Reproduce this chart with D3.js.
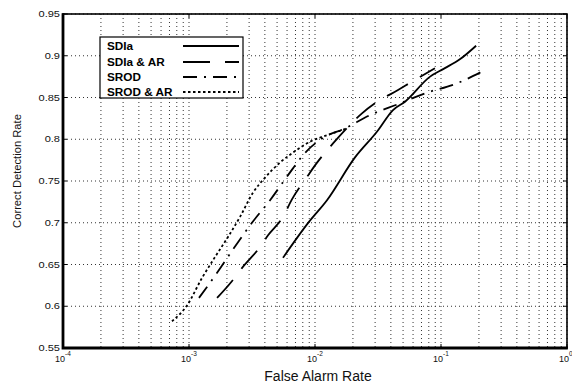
<!DOCTYPE html>
<html>
<head>
<meta charset="utf-8">
<script src="https://cdn.jsdelivr.net/npm/d3@7"></script>
<style>
  body { margin: 0; background: #fff; }
  svg { display: block; font-family: Arial, "Liberation Sans", Helvetica, sans-serif; }
</style>
</head>
<body>
<div id="chart"></div>
<script>
const width = 572;
const height = 383;

// axis ticks
const xTicks = [1e-4, 1e-3, 1e-2, 1e-1, 1];
const xTickExp = ['-4', '-3', '-2', '-1', '0'];
const yTicks = [0.55, 0.6, 0.65, 0.7, 0.75, 0.8, 0.85, 0.9, 0.95];

const seriesNames = ['SDIa', 'SDIa & AR', 'SROD', 'SROD & AR'];

// SDIa (solid)
const sdiaX = [0.00557, 0.00895, 0.01245, 0.0207, 0.031, 0.0416, 0.0518, 0.0819, 0.104, 0.142, 0.19];
const sdiaY = [0.658, 0.701, 0.727, 0.778, 0.809, 0.835, 0.845, 0.875, 0.884, 0.896, 0.912];

// SDIa & AR (dashed)
const sdiaArX = [0.00167, 0.00219, 0.00264, 0.00366, 0.00424, 0.00557, 0.00656, 0.00865, 0.01038, 0.0139, 0.0173, 0.0236, 0.0299, 0.0456, 0.0589, 0.0895];
const sdiaArY = [0.610, 0.630, 0.646, 0.671, 0.685, 0.707, 0.728, 0.755, 0.772, 0.795, 0.811, 0.831, 0.843, 0.859, 0.869, 0.885];

// SROD (dash-dot)
const srodX = [0.0012, 0.00167, 0.00228, 0.00316, 0.0044, 0.00611, 0.00849, 0.01138, 0.0173, 0.0274, 0.0456, 0.0746, 0.134, 0.211];
const srodY = [0.610, 0.640, 0.670, 0.700, 0.727, 0.757, 0.785, 0.801, 0.813, 0.829, 0.842, 0.855, 0.867, 0.881];

// SROD & AR (dotted)
const srodArX = [0.000733, 0.000964, 0.00127, 0.00161, 0.00204, 0.00254, 0.00322, 0.00401, 0.00527, 0.00668, 0.00912, 0.01315, 0.01795];
const srodArY = [0.582, 0.601, 0.634, 0.659, 0.683, 0.707, 0.736, 0.754, 0.772, 0.784, 0.797, 0.806, 0.813];

const plot = {left: 63, right: 567, top: 14, bottom: 348};

const dashes = ['none', '24,14', '14,7,2,7', '2.5,2.5'];

const x = d3.scaleLog()
  .domain([1e-4, 1])
  .range([plot.left, plot.right]);

const y = d3.scaleLinear()
  .domain([0.55, 0.95])
  .range([plot.bottom, plot.top]);

const zip = (xs, ys) => xs.map((v, i) => ({x: v, y: ys[i]}));

const series = [
  zip(sdiaX, sdiaY),
  zip(sdiaArX, sdiaArY),
  zip(srodX, srodY),
  zip(srodArX, srodArY)
].map((data, i) => ({name: seriesNames[i], dash: dashes[i], data}));

const svg = d3.select('#chart').append('svg')
  .attr('width', width)
  .attr('height', height);

// dotted grid
svg.append('g')
  .selectAll('line')
  .data(x.ticks())
  .join('line')
    .attr('x1', d => x(d)).attr('x2', d => x(d))
    .attr('y1', plot.top).attr('y2', plot.bottom)
    .attr('stroke', '#333')
    .attr('stroke-width', 1)
    .attr('stroke-dasharray', '1,3');

svg.append('g')
  .selectAll('line')
  .data(yTicks)
  .join('line')
    .attr('x1', plot.left).attr('x2', plot.right)
    .attr('y1', d => y(d)).attr('y2', d => y(d))
    .attr('stroke', '#333')
    .attr('stroke-width', 1)
    .attr('stroke-dasharray', '1,3');

// inward ticks on all four sides
const tickG = svg.append('g').attr('stroke', '#000').attr('stroke-width', 1);
yTicks.forEach(t => {
  tickG.append('line').attr('x1', plot.left).attr('x2', plot.left + 4).attr('y1', y(t)).attr('y2', y(t));
  tickG.append('line').attr('x1', plot.right).attr('x2', plot.right - 4).attr('y1', y(t)).attr('y2', y(t));
});
xTicks.forEach(t => {
  tickG.append('line').attr('x1', x(t)).attr('x2', x(t)).attr('y1', plot.bottom).attr('y2', plot.bottom - 4);
  tickG.append('line').attr('x1', x(t)).attr('x2', x(t)).attr('y1', plot.top).attr('y2', plot.top + 4);
});

// curves
const line = d3.line()
  .curve(d3.curveMonotoneX)
  .x(d => x(d.x))
  .y(d => y(d.y));

svg.append('g')
  .selectAll('path')
  .data(series)
  .join('path')
    .attr('d', d => line(d.data))
    .attr('fill', 'none')
    .attr('stroke', '#000')
    .attr('stroke-width', 1.8)
    .attr('stroke-dasharray', d => d.dash);

// frame
svg.append('rect')
  .attr('x', plot.left).attr('y', plot.top)
  .attr('width', plot.right - plot.left)
  .attr('height', plot.bottom - plot.top)
  .attr('fill', 'none')
  .attr('stroke', '#000')
  .attr('stroke-width', 1.6);

svg.append('path')
  .attr('d', `M${plot.left},${plot.top - 0.8}V${plot.bottom}H${plot.right + 0.8}`)
  .attr('fill', 'none')
  .attr('stroke', '#000')
  .attr('stroke-width', 2.8);

// y tick labels (stretched wide like the source)
svg.append('g')
  .selectAll('text')
  .data(yTicks)
  .join('text')
    .attr('transform', d => `translate(60,${y(d) + 3}) scale(1.3,1)`)
    .attr('text-anchor', 'end')
    .attr('font-size', 8.5)
    .attr('fill', '#111')
    .text(d => d === 0.6 || d === 0.7 || d === 0.8 || d === 0.9 ? d.toFixed(1) : d.toFixed(2));

// x tick labels 10^n
const xl = svg.append('g')
  .selectAll('g')
  .data(xTicks)
  .join('g')
    .attr('transform', d => `translate(${x(d) + 2},0)`);

xl.append('text')
  .attr('y', 362)
  .attr('text-anchor', 'end')
  .attr('font-size', 9)
  .attr('fill', '#111')
  .text('10');

xl.append('text')
  .attr('y', 356)
  .attr('font-size', 6.5)
  .attr('fill', '#111')
  .text((d, i) => xTickExp[i]);

// axis titles
svg.append('text')
  .attr('x', 318)
  .attr('y', 381)
  .attr('text-anchor', 'middle')
  .attr('font-size', 14)
  .attr('fill', '#111')
  .text('False Alarm Rate');

svg.append('text')
  .attr('transform', 'translate(21,171) rotate(-90)')
  .attr('text-anchor', 'middle')
  .attr('font-size', 11.2)
  .attr('fill', '#111')
  .text('Correct Detection Rate');

// legend
const legend = svg.append('g');

legend.append('rect')
  .attr('x', 100).attr('y', 37)
  .attr('width', 143).attr('height', 61)
  .attr('fill', '#fff')
  .attr('stroke', '#000')
  .attr('stroke-width', 1.2);

const legendRowY = [46, 62, 77, 92];

const row = legend.selectAll('.legend-row')
  .data(series)
  .join('g')
    .attr('class', 'legend-row')
    .attr('transform', (d, i) => `translate(0,${legendRowY[i]})`);

row.append('text')
  .attr('transform', 'translate(107,4) scale(1.12,1)')
  .attr('font-size', 10.5)
  .attr('font-weight', 'bold')
  .attr('fill', '#000')
  .text(d => d.name);

row.append('line')
  .attr('x1', 183).attr('x2', 239)
  .attr('y1', 0).attr('y2', 0)
  .attr('stroke', '#000')
  .attr('stroke-width', 1.8)
  .attr('stroke-dasharray', (d, i) => i === 1 ? '27,15' : d.dash);
</script>
</body>
</html>
